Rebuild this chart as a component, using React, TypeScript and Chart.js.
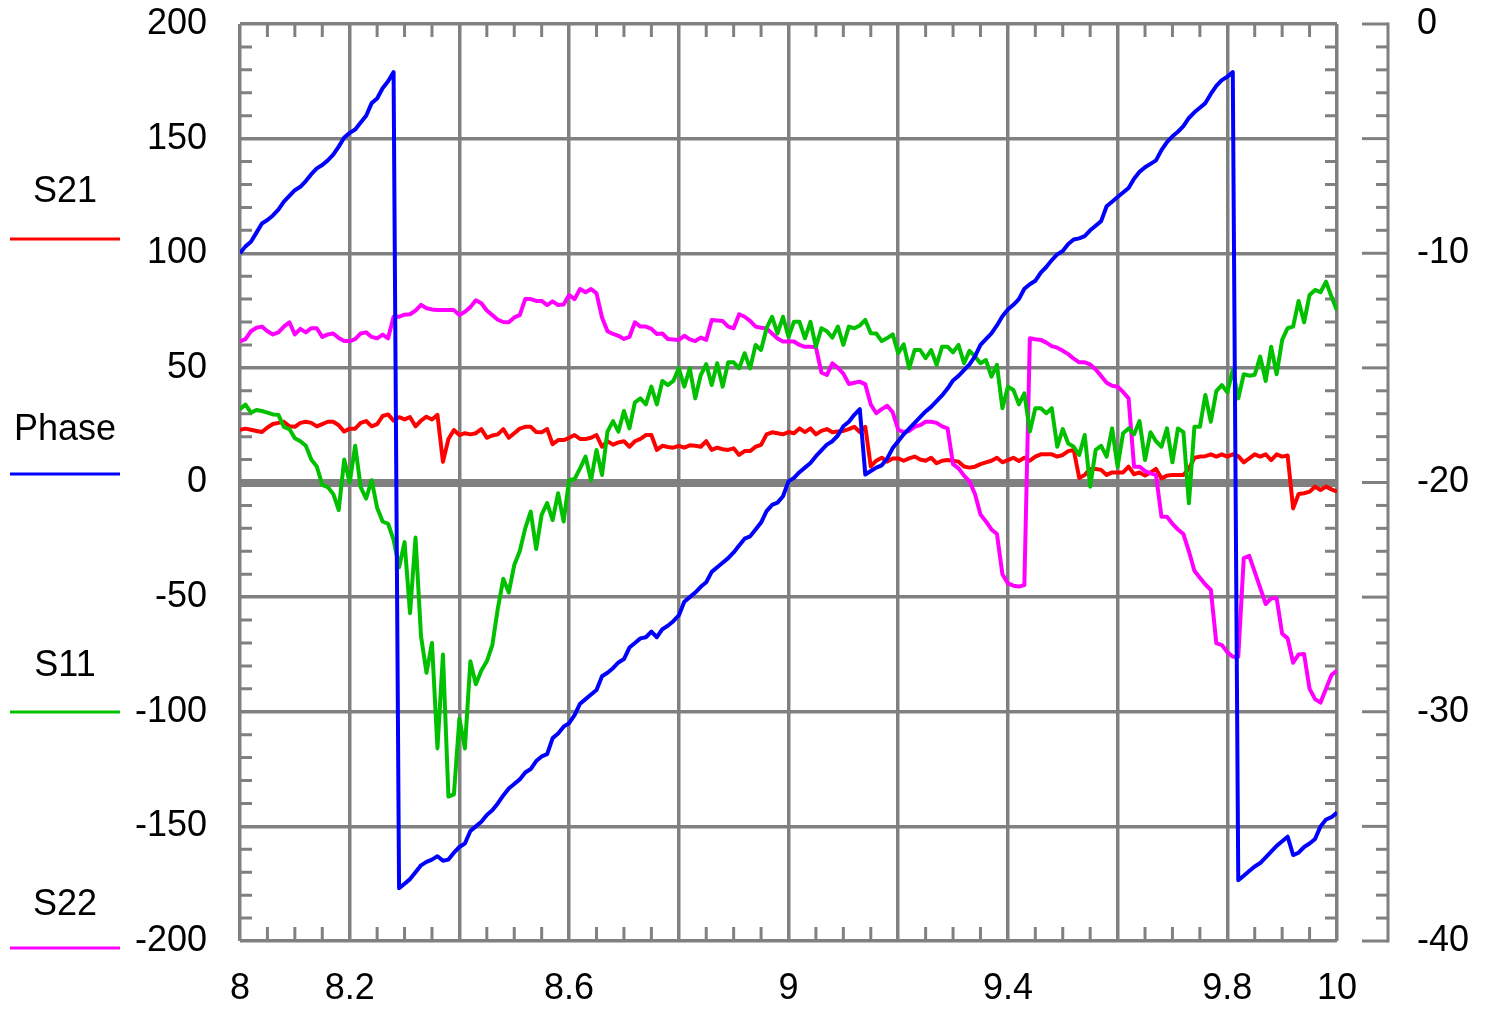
import React, { useEffect, useRef } from "react";
import { Chart, registerables } from "chart.js";

Chart.register(...registerables);

// Frequency (GHz), sampled every 0.01 GHz
const FREQ_GHZ = [
  8.0, 8.01, 8.02, 8.03, 8.04, 8.05, 8.06, 8.07, 8.08, 8.09,
  8.1, 8.11, 8.12, 8.13, 8.14, 8.15, 8.16, 8.17, 8.18, 8.19,
  8.2, 8.21, 8.22, 8.23, 8.24, 8.25, 8.26, 8.27, 8.28, 8.29,
  8.3, 8.31, 8.32, 8.33, 8.34, 8.35, 8.36, 8.37, 8.38, 8.39,
  8.4, 8.41, 8.42, 8.43, 8.44, 8.45, 8.46, 8.47, 8.48, 8.49,
  8.5, 8.51, 8.52, 8.53, 8.54, 8.55, 8.56, 8.57, 8.58, 8.59,
  8.6, 8.61, 8.62, 8.63, 8.64, 8.65, 8.66, 8.67, 8.68, 8.69,
  8.7, 8.71, 8.72, 8.73, 8.74, 8.75, 8.76, 8.77, 8.78, 8.79,
  8.8, 8.81, 8.82, 8.83, 8.84, 8.85, 8.86, 8.87, 8.88, 8.89,
  8.9, 8.91, 8.92, 8.93, 8.94, 8.95, 8.96, 8.97, 8.98, 8.99,
  9.0, 9.01, 9.02, 9.03, 9.04, 9.05, 9.06, 9.07, 9.08, 9.09,
  9.1, 9.11, 9.12, 9.13, 9.14, 9.15, 9.16, 9.17, 9.18, 9.19,
  9.2, 9.21, 9.22, 9.23, 9.24, 9.25, 9.26, 9.27, 9.28, 9.29,
  9.3, 9.31, 9.32, 9.33, 9.34, 9.35, 9.36, 9.37, 9.38, 9.39,
  9.4, 9.41, 9.42, 9.43, 9.44, 9.45, 9.46, 9.47, 9.48, 9.49,
  9.5, 9.51, 9.52, 9.53, 9.54, 9.55, 9.56, 9.57, 9.58, 9.59,
  9.6, 9.61, 9.62, 9.63, 9.64, 9.65, 9.66, 9.67, 9.68, 9.69,
  9.7, 9.71, 9.72, 9.73, 9.74, 9.75, 9.76, 9.77, 9.78, 9.79,
  9.8, 9.81, 9.82, 9.83, 9.84, 9.85, 9.86, 9.87, 9.88, 9.89,
  9.9, 9.91, 9.92, 9.93, 9.94, 9.95, 9.96, 9.97, 9.98, 9.99,
  10.0,
];

// Phase (degrees) - left axis
const PHASE_DEG = [
  100, 103, 105, 109, 113, 114.5, 116.5, 119, 122.5, 125,
  127.5, 129, 131.5, 134.5, 137, 138.5, 140.5, 143, 146.5, 150.5,
  152.5, 154, 157, 160, 165.5, 167.5, 172, 175, 179, -177,
  -175, -173, -170, -167, -165.5, -164.5, -163, -165, -164.5, -161.5,
  -159, -157.5, -152, -150, -148, -145, -143, -140, -136.5, -133.5,
  -131.5, -129.5, -126.5, -125, -121.5, -119.5, -118.5, -111.5, -109.5, -106.5,
  -105, -101.5, -96.5, -94.5, -92.5, -90.5, -84.5, -83, -81, -78.5,
  -77, -72, -70, -68, -67.5, -65, -67.5, -64, -62.5, -60.5,
  -58, -52, -50, -48, -45.5, -43.5, -39, -37, -35, -33,
  -30.5, -27.5, -24.5, -23.5, -20.5, -17.5, -12.5, -9.8, -8.8, -6,
  0.5, 2, 4.5, 6.5, 8.5, 11.5, 14, 16.5, 18, 20.5,
  24.5, 26.5, 29.5, 32, 3.5, 5, 6.5, 7.5, 10.5, 15,
  18, 21, 23.5, 26, 28.5, 31, 33, 35.5, 38, 41,
  44.5, 46.5, 49, 51.5, 55, 60, 62.5, 65, 68.5, 72.5,
  75.5, 77.5, 80, 84.5, 86.5, 88, 91.5, 94, 97, 99.5,
  101, 104, 106, 106.5, 107.5, 110, 112, 114, 120.5, 122.5,
  124.5, 126.5, 128.5, 132.5, 135.5, 137.5, 139, 140.5, 145, 148.5,
  151, 153, 155.5, 159, 161.5, 163.5, 165.5, 169.5, 173, 175.5,
  177, 179, -173.5, -171.5, -169.5, -167.5, -166, -163.5, -161, -158.5,
  -156.5, -154.5, -162.5, -161.5, -159, -157.5, -155.5, -150, -147, -146,
  -144,
];

// S21 (dB) - right axis
const S21_DB = [
  -17.7, -17.65, -17.7, -17.75, -17.8, -17.6, -17.45, -17.4, -17.35, -17.55,
  -17.57, -17.4, -17.35, -17.4, -17.55, -17.45, -17.35, -17.35, -17.5, -17.78,
  -17.65, -17.65, -17.4, -17.32, -17.55, -17.45, -17.1, -17.03, -17.3, -17.15,
  -17.25, -17.15, -17.55, -17.3, -17.13, -17.25, -17.05, -19.1, -18.1, -17.71,
  -17.93, -17.85, -17.9, -17.85, -17.67, -18.05, -17.95, -17.9, -17.67, -18.05,
  -17.85, -17.65, -17.57, -17.57, -17.8, -17.81, -17.67, -18.33, -18.15, -18.15,
  -18.05, -17.93, -18.1, -18.1, -18.05, -17.93, -18.44, -18.2, -18.35, -18.25,
  -18.2, -18.44, -18.2, -18.1, -17.93, -17.93, -18.58, -18.4, -18.45, -18.48,
  -18.4, -18.48, -18.38, -18.4, -18.44, -18.2, -18.58, -18.48, -18.55, -18.58,
  -18.51, -18.8, -18.63, -18.63, -18.44, -18.36, -17.9, -17.81, -17.85, -17.9,
  -17.8, -17.85, -17.64, -17.8, -17.64, -17.9, -17.75, -17.67, -17.81, -17.78,
  -17.75, -17.67, -17.57, -17.8, -17.57, -19.3, -19.05, -18.92, -19.09, -18.95,
  -18.95, -19.05, -18.95, -18.87, -19.0, -19.05, -18.92, -19.16, -19.05, -19.02,
  -19.05, -19.09, -19.3, -19.35, -19.31, -19.2, -19.12, -19.05, -18.92, -19.12,
  -19.02, -18.92, -19.06, -18.92, -19.05, -18.87, -18.77, -18.77, -18.77, -18.87,
  -18.8, -18.63, -18.58, -19.8, -19.67, -19.41, -19.41, -19.45, -19.67, -19.56,
  -19.56, -19.56, -19.31, -19.64, -19.56, -19.7, -19.56, -19.41, -19.82, -19.7,
  -19.67, -19.67, -19.67, -19.4, -18.92, -18.87, -18.85, -18.77, -18.87, -18.77,
  -18.87, -18.77, -18.85, -19.12, -18.95, -18.77, -18.87, -18.77, -19.02, -18.77,
  -18.87, -18.82, -21.13, -20.5, -20.47, -20.4, -20.18, -20.33, -20.18, -20.3,
  -20.4,
];

// S11 (dB) - right axis
const S11_DB = [
  -16.8, -16.6, -16.95, -16.84, -16.88, -16.95, -17.03, -17.05, -17.57, -17.67,
  -18.07, -18.2, -18.4, -19.0, -19.3, -20.1, -20.2, -20.5, -21.2, -19.0,
  -20.0, -18.4, -20.2, -20.7, -19.9, -21.1, -21.7, -21.8, -22.5, -23.7,
  -22.6, -25.7, -22.4, -26.7, -28.3, -27.0, -31.6, -27.5, -33.7, -33.6,
  -30.3, -31.6, -27.8, -28.8, -28.2, -27.8, -27.1, -25.5, -24.2, -24.8,
  -23.6, -23.0, -22.0, -21.27, -22.9, -21.4, -20.9, -21.64, -20.47, -21.7,
  -19.9, -19.85, -19.38, -18.87, -19.9, -18.58, -19.67, -17.78, -17.32, -17.78,
  -16.88, -17.64, -16.5, -16.33, -16.59, -15.82, -16.59, -15.57, -15.75, -15.57,
  -15.02, -15.82, -15.02, -16.33, -15.31, -14.84, -15.75, -14.8, -15.82, -14.76,
  -14.76, -15.02, -14.36, -15.02, -14.0, -14.22, -13.27, -12.77, -13.5, -12.77,
  -13.64, -12.99, -12.99, -13.71, -12.99, -14.08, -13.27, -13.4, -13.68, -13.2,
  -14.0, -13.2, -13.27, -13.15, -12.91, -13.49, -13.5, -13.83, -13.7, -13.54,
  -14.36, -13.97, -15.02, -14.22, -14.22, -14.58, -14.22, -14.87, -14.08, -14.08,
  -14.32, -14.0, -14.8, -14.26, -14.5, -14.8, -14.66, -15.38, -14.87, -16.76,
  -15.82, -15.96, -16.59, -16.11, -17.78, -16.76, -16.76, -16.98, -16.76, -18.44,
  -17.67, -18.3, -18.44, -18.8, -17.93, -20.18, -18.58, -18.4, -18.87, -17.64,
  -19.31, -17.85, -17.64, -17.9, -17.32, -19.02, -17.81, -18.2, -18.44, -17.64,
  -19.12, -17.64, -17.8, -20.91, -17.57, -17.57, -16.18, -17.35, -16.01, -15.75,
  -16.07, -15.09, -16.33, -15.28, -15.34, -15.3, -14.51, -15.57, -14.08, -15.28,
  -13.78, -13.27, -13.2, -12.08, -13.01, -11.82, -11.6, -11.7, -11.24, -11.9,
  -12.5,
];

// S22 (dB) - right axis
const S22_DB = [
  -13.85, -13.75, -13.4, -13.25, -13.2, -13.4, -13.54, -13.45, -13.2, -13.01,
  -13.54, -13.3, -13.45, -13.27, -13.27, -13.65, -13.54, -13.5, -13.7, -13.83,
  -13.83, -13.75, -13.5, -13.45, -13.65, -13.71, -13.55, -13.71, -12.77, -12.77,
  -12.68, -12.66, -12.5, -12.25, -12.4, -12.45, -12.48, -12.48, -12.48, -12.48,
  -12.7, -12.55, -12.35, -12.05, -12.18, -12.5, -12.7, -12.9, -13.0, -13.01,
  -12.8, -12.7, -12.0, -12.0, -12.08, -12.08, -12.26, -12.1, -12.26, -12.24,
  -11.82, -12.0, -11.56, -11.7, -11.56, -11.75, -12.8, -13.4, -13.52, -13.6,
  -13.74, -13.65, -13.01, -13.2, -13.2, -13.3, -13.52, -13.5, -13.74, -13.76,
  -13.78, -13.6, -13.76, -13.83, -13.68, -13.78, -12.91, -12.93, -12.96, -13.2,
  -13.27, -12.66, -12.77, -12.95, -13.2, -13.25, -13.28, -13.5, -13.72, -13.85,
  -13.85, -13.85, -14.0, -14.08, -14.08, -14.1, -15.2, -15.31, -14.8, -15.0,
  -15.25, -15.7, -15.65, -15.6, -15.72, -16.6, -16.98, -16.8, -16.65, -16.94,
  -17.7, -17.8, -17.75, -17.57, -17.5, -17.35, -17.35, -17.4, -17.55, -17.64,
  -19.2, -19.38, -19.7, -19.95, -20.5, -21.4, -21.7, -22.05, -22.25, -24.0,
  -24.4, -24.5, -24.54, -24.47, -13.71, -13.75, -13.78, -13.9, -14.05, -14.12,
  -14.25, -14.4, -14.6, -14.76, -14.76, -14.85, -15.07, -15.35, -15.65, -15.78,
  -15.82, -16.05, -16.33, -19.31, -19.31, -19.5, -19.6, -19.67, -21.49, -21.49,
  -21.8, -22.05, -22.25, -23.0, -23.85, -24.15, -24.45, -24.69, -27.01, -27.09,
  -27.4, -27.6, -27.6, -23.3, -23.2, -23.9, -24.6, -25.3, -25.05, -25.05,
  -26.6, -26.8, -27.86, -27.5, -27.48, -29.0, -29.45, -29.6, -29.0, -28.4,
  -28.2,
];

const X_LABELED_TICKS = [8, 8.2, 8.6, 9, 9.4, 9.8, 10];
const LEGEND_LABELS = ["S21", "Phase", "S11", "S22"];

const RED = "#ff0000";
const BLUE = "#0000ff";
const GREEN = "#00c000";
const MAGENTA = "#ff00ff";
const LEGEND_COLORS = [RED, BLUE, GREEN, MAGENTA];
const GRAY = "#808080";
const CLEAR = "rgba(0,0,0,0)";
const FONT_FAMILY = '"Liberation Sans", Arial, sans-serif';
const FONT_SIZE = 36;
const LINE_W = 4;
const GRID_W = 3.5;

const decorPlugin = {
  id: "decor",
  beforeDatasetsDraw(chart: any) {
    const { ctx, chartArea, scales } = chart;
    const { left, right, top, bottom } = chartArea;
    const xs = scales.x;
    const yl = scales.y;
    ctx.save();
    ctx.strokeStyle = GRAY;
    ctx.lineWidth = 3;
    ctx.lineCap = "butt";
    // minor x ticks (every 0.05) on top & bottom edges
    for (let k = 1; k < 40; k++) {
      if (k % 4 === 0) continue;
      const px = xs.getPixelForValue(8 + k * 0.05);
      ctx.beginPath();
      ctx.moveTo(px, top);
      ctx.lineTo(px, top + 13);
      ctx.moveTo(px, bottom);
      ctx.lineTo(px, bottom - 14);
      ctx.stroke();
    }
    // minor y ticks (every 10) on left & right edges
    for (let v = -190; v < 200; v += 10) {
      if (v % 50 === 0) continue;
      const py = yl.getPixelForValue(v);
      ctx.beginPath();
      ctx.moveTo(left, py);
      ctx.lineTo(left + 12, py);
      ctx.moveTo(right, py);
      ctx.lineTo(right - 12, py);
      ctx.stroke();
    }
    ctx.restore();
  },
  afterDraw(chart: any) {
    const { ctx, chartArea, scales } = chart;
    const yr = scales.y1;
    ctx.save();
    // right-hand dB axis line and ticks
    const axisX = chartArea.right + 51;
    ctx.strokeStyle = GRAY;
    ctx.lineWidth = 3;
    ctx.beginPath();
    ctx.moveTo(axisX, yr.getPixelForValue(0) - 1.5);
    ctx.lineTo(axisX, yr.getPixelForValue(-40) + 1.5);
    ctx.stroke();
    for (let v = -40; v <= 0; v += 1) {
      const py = yr.getPixelForValue(v);
      const len = v % 5 === 0 ? 26 : 12;
      ctx.beginPath();
      ctx.moveTo(axisX - len, py);
      ctx.lineTo(axisX, py);
      ctx.stroke();
    }
    // legend on the left
    const labelY = [192, 430, 666, 905];
    const lineY = [239, 474, 712, 948];
    ctx.font = `${FONT_SIZE}px ${FONT_FAMILY}`;
    ctx.textAlign = "center";
    ctx.textBaseline = "middle";
    LEGEND_LABELS.forEach((lab, i) => {
      ctx.fillStyle = "#000";
      ctx.fillText(lab, 65, labelY[i]);
      ctx.strokeStyle = LEGEND_COLORS[i];
      ctx.lineWidth = 3;
      ctx.beginPath();
      ctx.moveTo(10, lineY[i]);
      ctx.lineTo(120, lineY[i]);
      ctx.stroke();
    });
    ctx.restore();
  },
};

export default function App() {
  const ref = useRef<HTMLCanvasElement>(null);

  useEffect(() => {
    const canvas = ref.current;
    if (!canvas) return;
    const pts = (ys: number[]) => ys.map((y, i) => ({ x: FREQ_GHZ[i], y }));
    const common = {
      borderWidth: LINE_W,
      pointRadius: 0,
      tension: 0,
      fill: false,
      borderJoinStyle: "round" as const,
    };
    const tickFont = { family: FONT_FAMILY, size: FONT_SIZE };
    const chart = new Chart(canvas, {
      type: "line",
      data: {
        datasets: [
          { ...common, label: "S21", data: pts(S21_DB), borderColor: RED, yAxisID: "y1", order: 3 },
          { ...common, label: "Phase", data: pts(PHASE_DEG), borderColor: BLUE, yAxisID: "y", order: 0 },
          { ...common, label: "S11", data: pts(S11_DB), borderColor: GREEN, yAxisID: "y1", order: 1 },
          { ...common, label: "S22", data: pts(S22_DB), borderColor: MAGENTA, yAxisID: "y1", order: 2 },
        ],
      },
      options: {
        responsive: false,
        animation: false,
        devicePixelRatio: 1,
        layout: { padding: { top: 24, left: 0, right: 0, bottom: 0 } },
        plugins: { legend: { display: false }, tooltip: { enabled: false } },
        scales: {
          x: {
            type: "linear",
            position: "bottom",
            min: 8,
            max: 10,
            afterFit: (s: any) => { s.height = 69; },
            border: { display: false },
            grid: { color: GRAY, lineWidth: GRID_W, drawTicks: true, tickLength: 24, tickColor: CLEAR },
            ticks: {
              stepSize: 0.2,
              autoSkip: false,
              maxRotation: 0,
              padding: 2,
              color: "#000",
              font: tickFont,
              callback: (v: any) => {
                const hit = X_LABELED_TICKS.find((t) => Math.abs(t - Number(v)) < 1e-6);
                return hit === undefined ? "" : String(hit);
              },
            },
          },
          y: {
            type: "linear",
            position: "left",
            min: -200,
            max: 200,
            afterFit: (s: any) => { s.width = 240; },
            border: { display: false },
            grid: {
              color: GRAY,
              lineWidth: (c: any) => (c.tick && c.tick.value === 0 ? 8 : GRID_W),
              drawTicks: true,
              tickLength: 31,
              tickColor: CLEAR,
            },
            ticks: {
              stepSize: 50,
              padding: 2,
              color: "#000",
              font: tickFont,
              callback: (v: any) => String(v),
            },
          },
          y1: {
            type: "linear",
            position: "right",
            min: -40,
            max: 0,
            afterFit: (s: any) => { s.width = 152; },
            border: { display: false },
            grid: { display: false, drawOnChartArea: false, drawTicks: true, tickLength: 78, tickColor: CLEAR },
            ticks: {
              stepSize: 10,
              padding: 2,
              color: "#000",
              font: tickFont,
              callback: (v: any) => String(v),
            },
          },
        },
      },
      plugins: [decorPlugin],
    });
    return () => chart.destroy();
  }, []);

  return (
    <div style={{ position: "absolute", left: 0, top: 0, width: 1489, height: 1010, background: "#fff" }}>
      <canvas ref={ref} width={1489} height={1010} style={{ display: "block" }} />
    </div>
  );
}
